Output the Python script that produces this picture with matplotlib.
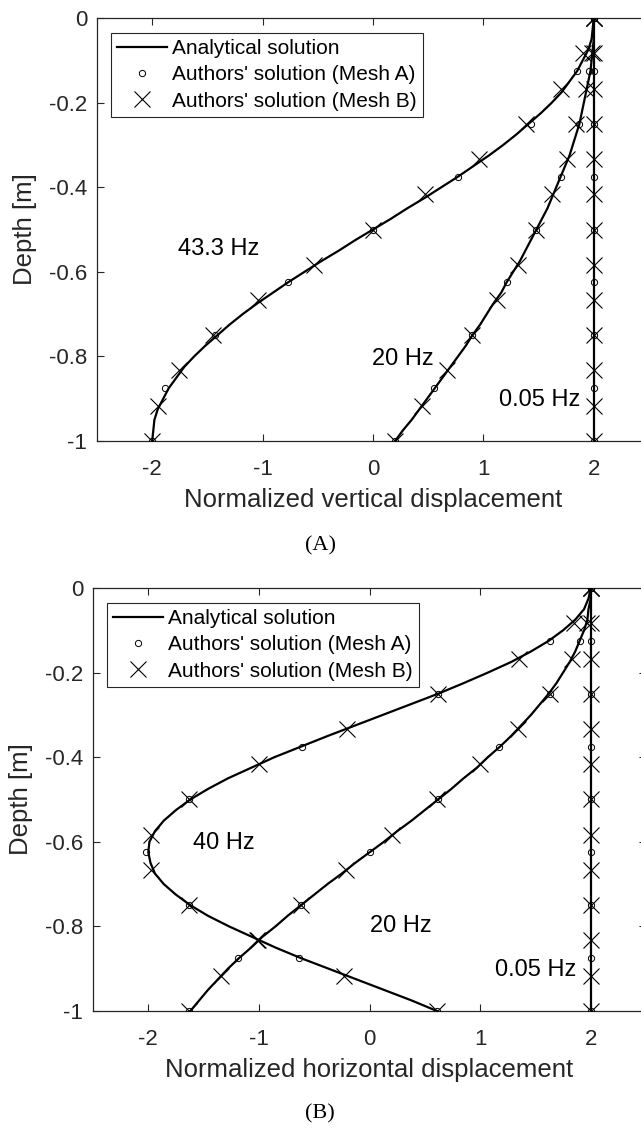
import numpy as np
import matplotlib.pyplot as plt

plt.rcParams['font.family'] = ['Liberation Sans', 'DejaVu Sans']
plt.rcParams['axes.unicode_minus'] = False

# depths (m) for the analytical curves
depth_line = [0, -0.025, -0.05, -0.075, -0.1, -0.125, -0.15, -0.175, -0.2, -0.225, -0.25,
              -0.275, -0.3, -0.325, -0.35, -0.375, -0.4, -0.425, -0.45, -0.475, -0.5,
              -0.525, -0.55, -0.575, -0.6, -0.625, -0.65, -0.675, -0.7, -0.725, -0.75,
              -0.775, -0.8, -0.825, -0.85, -0.875, -0.9, -0.925, -0.95, -0.975, -1.0]
# depths of the numerical results
depth_A = [0, -0.125, -0.25, -0.375, -0.5, -0.625, -0.75, -0.875, -1.0]
depth_B = [0, -0.0833, -0.1667, -0.25, -0.3333, -0.4167, -0.5, -0.5833, -0.6667, -0.75,
           -0.8333, -0.9167, -1.0]

# (A) vertical displacement
vert_43_line = [2.00, 1.99, 1.98, 1.95, 1.90, 1.85, 1.78, 1.71, 1.62, 1.52, 1.41,
                1.30, 1.18, 1.05, 0.91, 0.77, 0.62, 0.47, 0.31, 0.16, 0.00,
                -0.16, -0.31, -0.47, -0.62, -0.77, -0.91, -1.05, -1.18, -1.30, -1.41,
                -1.52, -1.62, -1.71, -1.78, -1.85, -1.90, -1.95, -1.98, -1.99, -2.00]
vert_20_line = [2.00, 2.00, 2.00, 1.99, 1.98, 1.97, 1.95, 1.93, 1.91, 1.89, 1.87,
                1.84, 1.81, 1.78, 1.74, 1.70, 1.66, 1.62, 1.58, 1.53, 1.48,
                1.43, 1.38, 1.33, 1.27, 1.21, 1.16, 1.09, 1.03, 0.97, 0.90,
                0.84, 0.77, 0.70, 0.63, 0.56, 0.49, 0.42, 0.35, 0.27, 0.20]
vert_005_line = [2.0] * len(depth_line)

vert_43_A = [2.00, 1.85, 1.43, 0.77, 0.00, -0.77, -1.43, -1.88, -2.00]
vert_20_A = [2.00, 1.96, 1.87, 1.70, 1.48, 1.21, 0.90, 0.55, 0.20]
vert_005_A = [2.0] * 9
vert_43_B = [2.00, 1.90, 1.70, 1.39, 0.96, 0.47, 0.00, -0.53, -1.04, -1.45, -1.76, -1.95, -2.00]
vert_20_B = [2.00, 1.98, 1.93, 1.84, 1.76, 1.62, 1.48, 1.31, 1.12, 0.90, 0.67, 0.44, 0.20]
vert_005_B = [2.0] * 13

# (B) horizontal displacement
hor_40_line = [2.00, 1.98, 1.94, 1.86, 1.75, 1.62, 1.46, 1.28, 1.07, 0.85, 0.62,
               0.37, 0.12, -0.13, -0.38, -0.62, -0.86, -1.07, -1.28, -1.46, -1.62,
               -1.75, -1.86, -1.94, -1.99, -2.00, -1.98, -1.94, -1.86, -1.75, -1.62,
               -1.46, -1.27, -1.06, -0.85, -0.62, -0.37, -0.12, 0.13, 0.38, 0.61]
hor_20_line = [2.00, 2.00, 1.98, 1.97, 1.94, 1.90, 1.86, 1.81, 1.75, 1.69, 1.62,
               1.54, 1.46, 1.37, 1.28, 1.18, 1.07, 0.97, 0.85, 0.74, 0.62,
               0.50, 0.38, 0.25, 0.13, 0.00, -0.13, -0.25, -0.38, -0.50, -0.62,
               -0.74, -0.85, -0.97, -1.07, -1.18, -1.28, -1.37, -1.46, -1.54, -1.62]
hor_005_line = [2.0] * len(depth_line)

hor_40_A = [2.00, 1.63, 0.62, -0.61, -1.63, -2.02, -1.63, -0.64, 0.61]
hor_20_A = [2.00, 1.90, 1.63, 1.17, 0.62, 0.00, -0.62, -1.19, -1.63]
hor_005_A = [2.0] * 9
hor_40_B = [2.00, 1.85, 1.35, 0.62, -0.20, -1.00, -1.63, -1.98, -1.98, -1.63, -1.01, -0.23, 0.61]
hor_20_B = [2.00, 1.97, 1.83, 1.63, 1.34, 1.00, 0.61, 0.20, -0.21, -0.62, -1.02, -1.34, -1.63]
hor_005_B = [2.0] * 13

xticks = [-2, -1, 0, 1, 2]
yticks = [-1, -0.8, -0.6, -0.4, -0.2, 0]
ytick_labels = ['-1', '-0.8', '-0.6', '-0.4', '-0.2', '0']

axcol = '#262626'

fig = plt.figure(figsize=(6.41, 11.29), dpi=100)
ax1 = fig.add_axes([97 / 641, 1 - 441 / 1129, 552 / 641, 423 / 1129])
ax2 = fig.add_axes([93 / 641, 1 - 1011 / 1129, 553 / 641, 423 / 1129])


def draw_panel(ax, lines, mesh_a, mesh_b, xlabel):
    for i, xs in enumerate(lines):
        ax.plot(xs, depth_line, color='black', lw=1.6,
                label='Analytical solution' if i == 0 else None, zorder=3)
    for i, xs in enumerate(mesh_a):
        ax.plot(xs, depth_A, ls='none', marker='o', ms=4.5, mfc='none', mec='black', mew=0.7,
                label="Authors' solution (Mesh A)" if i == 0 else None, zorder=4)
    for i, xs in enumerate(mesh_b):
        ax.plot(xs, depth_B, ls='none', marker='x', ms=11, mec='black', mew=0.8,
                label="Authors' solution (Mesh B)" if i == 0 else None, zorder=4)
    ax.set_xlim(-2.5, 2.5)
    ax.set_ylim(-1, 0)
    ax.set_xticks(xticks)
    ax.set_xticklabels([str(t) for t in xticks])
    ax.set_yticks(yticks)
    ax.set_yticklabels(ytick_labels)
    ax.tick_params(direction='in', length=5, width=0.8, colors=axcol, labelsize=16,
                   top=True, right=True)
    ax.tick_params(axis='x', pad=13)
    ax.tick_params(axis='y', pad=7)
    for sp in ax.spines.values():
        sp.set_color(axcol)
        sp.set_linewidth(0.9)
    ax.set_xlabel(xlabel, fontsize=18.5, color=axcol, labelpad=6)
    ax.set_ylabel('Depth [m]', fontsize=18.5, color=axcol, labelpad=9)
    leg = ax.legend(loc='upper left', bbox_to_anchor=(0.025, 0.965), borderaxespad=0,
                    fontsize=15, fancybox=False, framealpha=1, edgecolor=axcol,
                    handlelength=2.4, handletextpad=0.25, borderpad=0.3, labelspacing=0.35)
    leg.get_frame().set_linewidth(0.8)


draw_panel(ax1, [vert_43_line, vert_20_line, vert_005_line],
           [vert_43_A, vert_20_A, vert_005_A], [vert_43_B, vert_20_B, vert_005_B],
           'Normalized vertical displacement')
ax1.text(-1.03, -0.545, '43.3 Hz', fontsize=17, ha='right', va='center')
ax1.text(0.55, -0.806, '20 Hz', fontsize=17, ha='right', va='center')
ax1.text(1.88, -0.903, '0.05 Hz', fontsize=17, ha='right', va='center')

draw_panel(ax2, [hor_40_line, hor_20_line, hor_005_line],
           [hor_40_A, hor_20_A, hor_005_A], [hor_40_B, hor_20_B, hor_005_B],
           'Normalized horizontal displacement')
ax2.text(-1.60, -0.603, '40 Hz', fontsize=17, ha='left', va='center')
ax2.text(0.0, -0.80, '20 Hz', fontsize=17, ha='left', va='center')
ax2.text(1.87, -0.903, '0.05 Hz', fontsize=17, ha='right', va='center')

fig.text(320 / 641, 1 - 546 / 1129, '(A)', fontsize=16, family='Liberation Serif',
         ha='center', va='center')
fig.text(320 / 641, 1 - 1114 / 1129, '(B)', fontsize=16, family='Liberation Serif',
         ha='center', va='center')

fig.savefig('out.png', dpi=100)
